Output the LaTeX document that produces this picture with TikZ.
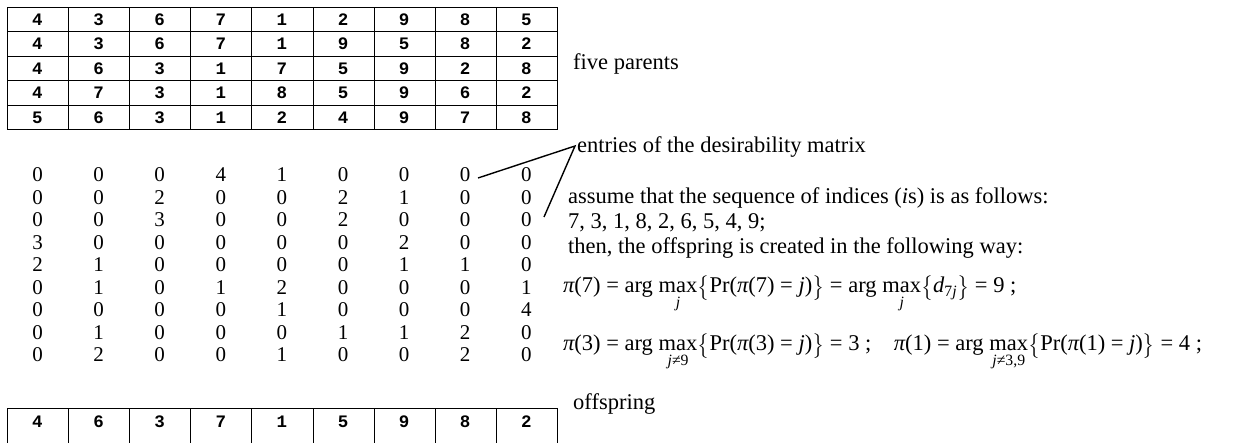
\documentclass[tikz,border=0pt]{standalone}
\usepackage{amsmath}
\usepackage{fontspec}
\setmainfont{Liberation Serif}
\newfontfamily\tabfont{Liberation Mono}[BoldFont=* Bold]
\newcommand{\mypi}{\textit{π}}
\newcommand{\jj}{\textit{j}}
\newcommand{\amax}[1]{\text{arg}\mkern2mu\mathop{\text{max}}\limits_{\text{#1}}}
\newcommand{\eqs}{\text{ = }}
\tikzset{
  cell/.style={draw=black, line width=1pt, minimum width=61.1pt, minimum height=24.4pt, inner sep=0pt, anchor=north west},
  celltext/.style={inner sep=0pt, anchor=base, font=\tabfont\bfseries\fontsize{17.5}{17.5}\selectfont},
  ent/.style={inner sep=0pt, anchor=base, font=\fontsize{21}{24}\selectfont},
  txt/.style={inner sep=0pt, anchor=base west, font=\fontsize{22.5}{25}\selectfont},
  conn/.style={line width=1.4pt}
}
\begin{document}
\begin{tikzpicture}[x=1pt,y=-1pt]
\useasboundingbox (0,0) rectangle (1250,443);
% parents table
\foreach \row [count=\r from 0] in {{4,3,6,7,1,2,9,8,5},{4,3,6,7,1,9,5,8,2},{4,6,3,1,7,5,9,2,8},{4,7,3,1,8,5,9,6,2},{5,6,3,1,2,4,9,7,8}}{
  \foreach \v [count=\c from 0] in \row {
    \node[cell] (p\r\c) at ({7+61.1*\c},{7+24.4*\r}) {};
    \node[celltext] (pt\r\c) at ({37.5+61.1*\c},{25.5+24.4*\r}) {\v};
  }
}
\node[txt] (five) at (573,70) {five parents};
% desirability matrix
\foreach \row [count=\r from 0] in {{0,0,0,4,1,0,0,0,0},{0,0,2,0,0,2,1,0,0},{0,0,3,0,0,2,0,0,0},{3,0,0,0,0,0,2,0,0},{2,1,0,0,0,0,1,1,0},{0,1,0,1,2,0,0,0,1},{0,0,0,0,1,0,0,0,4},{0,1,0,0,0,1,1,2,0},{0,2,0,0,1,0,0,2,0}}{
  \foreach \v [count=\c from 0] in \row {
    \node[ent] (m\r\c) at ({37.5+61.1*\c},{182+22.5*\r}) {\v};
  }
}
% offspring table
\foreach \v [count=\c from 0] in {4,6,3,7,1,5,9,8,2}{
  \node[cell, minimum height=40pt] (o\c) at ({7+61.1*\c},408) {};
  \node[celltext] (ot\c) at ({37.5+61.1*\c},427) {\v};
}
% right texts
\node[txt] (entries) at (577,153) {entries of the desirability matrix};
\node[txt] (assume) at (568,204) {assume that the sequence of indices (\textit{i}s) is as follows:};
\node[txt] (seq) at (568,229) {7, 3, 1, 8, 2, 6, 5, 4, 9;};
\node[txt] (then) at (568,254) {then, the offspring is created in the following way:};
\node[txt] (eq1) at (563,293) {$\mypi\text{(7)}\eqs\amax{\jj}\bigl\{\text{Pr(}\mypi\text{(7)}\eqs\jj\text{)}\bigr\}\eqs\amax{\jj}\bigl\{\textit{d}_{\text{7}\jj}\bigr\}\eqs\text{9 ;}$};
\node[txt] (eq2) at (563,351) {$\mypi\text{(3)}\eqs\amax{\jj≠9}\bigl\{\text{Pr(}\mypi\text{(3)}\eqs\jj\text{)}\bigr\}\eqs\text{3 ;}\quad\mypi\text{(1)}\eqs\amax{\jj≠3,9}\bigl\{\text{Pr(}\mypi\text{(1)}\eqs\jj\text{)}\bigr\}\eqs\text{4 ;}$};
\node[txt] (off) at (573,409) {offspring};
% connectors
\coordinate (apex) at (575,146);
\coordinate (endA) at (478,178);
\coordinate (endB) at (544,217);
\draw[conn] (endA) -- (apex) -- (endB);
\end{tikzpicture}
\end{document}
